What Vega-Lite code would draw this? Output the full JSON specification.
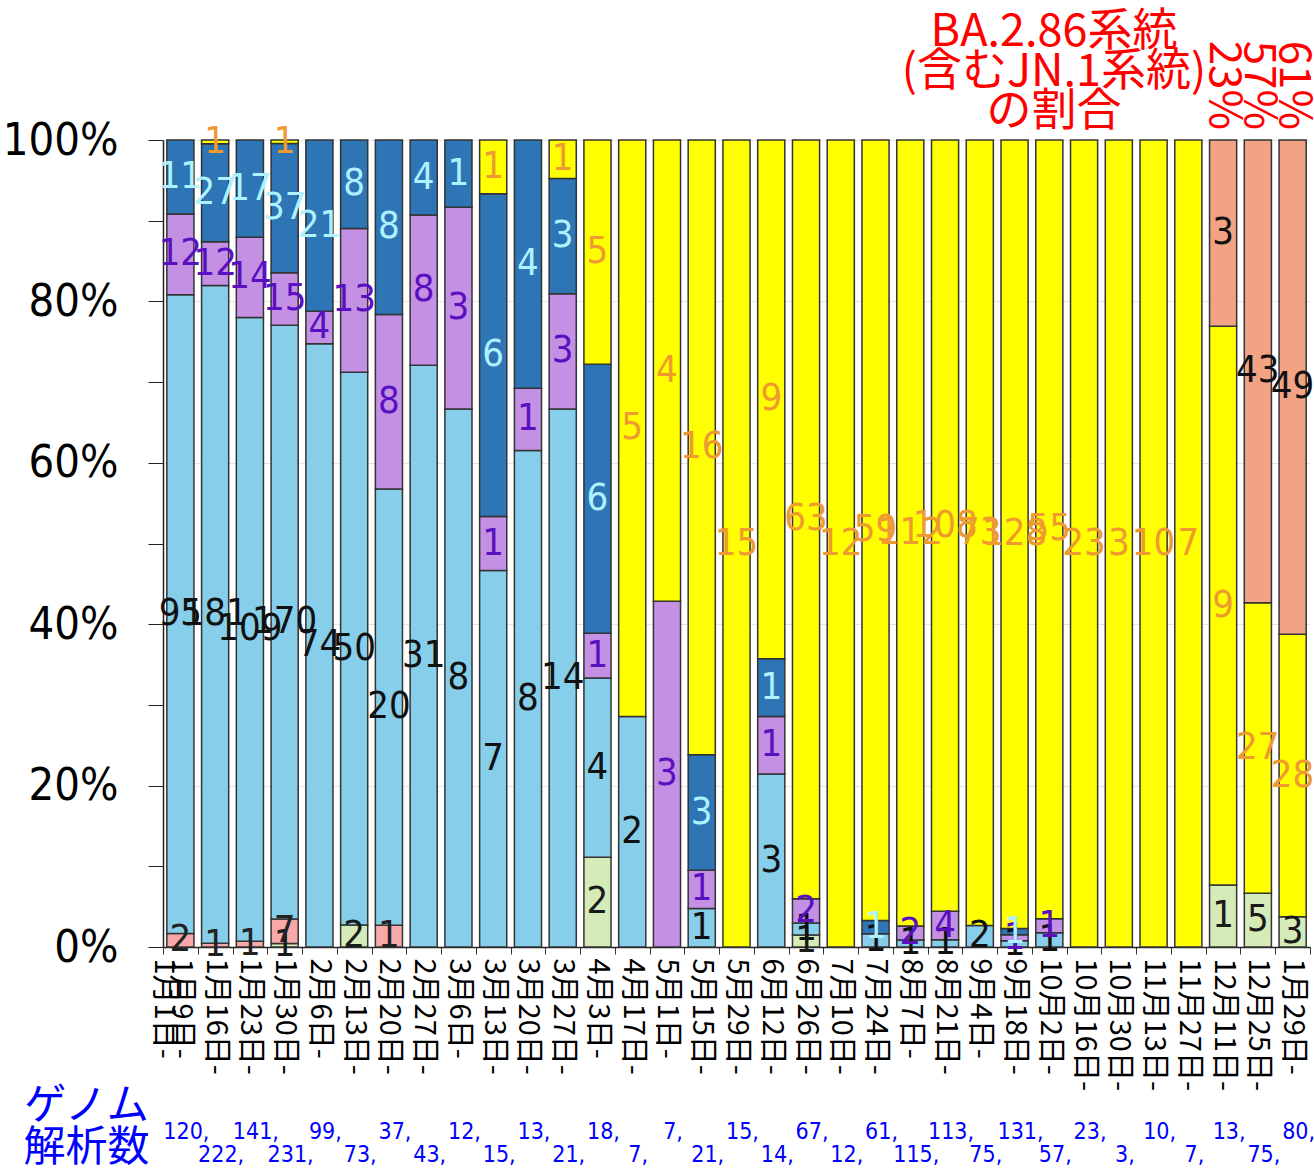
{
  "$schema": "https://vega.github.io/schema/vega-lite/v6.json",
  "width": 1147,
  "height": 807,
  "autosize": {"type": "none"},
  "padding": {"left": 163, "top": 140, "right": 4, "bottom": 229},
  "background": "white",
  "config": {"view": {"stroke": null}},
  "title": {
    "text": ["BA.2.86系統", "(含むJN.1系統)", "の割合"],
    "anchor": "end",
    "frame": "group",
    "align": "center",
    "dx": -256,
    "dy": 104,
    "offset": 10,
    "font": "Noto Sans CJK JP",
    "fontSize": 45,
    "fontWeight": "normal",
    "lineHeight": 40,
    "color": "#ff0000"
  },
  "data": {
    "values": [
      {"week": "2023-01-09", "lin": "v2", "n": 2}, {"week": "2023-01-09", "lin": "v3", "n": 95}, {"week": "2023-01-09", "lin": "v4", "n": 12}, {"week": "2023-01-09", "lin": "v5", "n": 11},
      {"week": "2023-01-16", "lin": "v2", "n": 1}, {"week": "2023-01-16", "lin": "v3", "n": 181}, {"week": "2023-01-16", "lin": "v4", "n": 12}, {"week": "2023-01-16", "lin": "v5", "n": 27}, {"week": "2023-01-16", "lin": "v6", "n": 1},
      {"week": "2023-01-23", "lin": "v2", "n": 1}, {"week": "2023-01-23", "lin": "v3", "n": 109}, {"week": "2023-01-23", "lin": "v4", "n": 14}, {"week": "2023-01-23", "lin": "v5", "n": 17},
      {"week": "2023-01-30", "lin": "v1", "n": 1}, {"week": "2023-01-30", "lin": "v2", "n": 7}, {"week": "2023-01-30", "lin": "v3", "n": 170}, {"week": "2023-01-30", "lin": "v4", "n": 15}, {"week": "2023-01-30", "lin": "v5", "n": 37}, {"week": "2023-01-30", "lin": "v6", "n": 1},
      {"week": "2023-02-06", "lin": "v3", "n": 74}, {"week": "2023-02-06", "lin": "v4", "n": 4}, {"week": "2023-02-06", "lin": "v5", "n": 21},
      {"week": "2023-02-13", "lin": "v1", "n": 2}, {"week": "2023-02-13", "lin": "v3", "n": 50}, {"week": "2023-02-13", "lin": "v4", "n": 13}, {"week": "2023-02-13", "lin": "v5", "n": 8},
      {"week": "2023-02-20", "lin": "v2", "n": 1}, {"week": "2023-02-20", "lin": "v3", "n": 20}, {"week": "2023-02-20", "lin": "v4", "n": 8}, {"week": "2023-02-20", "lin": "v5", "n": 8},
      {"week": "2023-02-27", "lin": "v3", "n": 31}, {"week": "2023-02-27", "lin": "v4", "n": 8}, {"week": "2023-02-27", "lin": "v5", "n": 4},
      {"week": "2023-03-06", "lin": "v3", "n": 8}, {"week": "2023-03-06", "lin": "v4", "n": 3}, {"week": "2023-03-06", "lin": "v5", "n": 1},
      {"week": "2023-03-13", "lin": "v3", "n": 7}, {"week": "2023-03-13", "lin": "v4", "n": 1}, {"week": "2023-03-13", "lin": "v5", "n": 6}, {"week": "2023-03-13", "lin": "v6", "n": 1},
      {"week": "2023-03-20", "lin": "v3", "n": 8}, {"week": "2023-03-20", "lin": "v4", "n": 1}, {"week": "2023-03-20", "lin": "v5", "n": 4},
      {"week": "2023-03-27", "lin": "v3", "n": 14}, {"week": "2023-03-27", "lin": "v4", "n": 3}, {"week": "2023-03-27", "lin": "v5", "n": 3}, {"week": "2023-03-27", "lin": "v6", "n": 1},
      {"week": "2023-04-03", "lin": "v1", "n": 2}, {"week": "2023-04-03", "lin": "v3", "n": 4}, {"week": "2023-04-03", "lin": "v4", "n": 1}, {"week": "2023-04-03", "lin": "v5", "n": 6}, {"week": "2023-04-03", "lin": "v6", "n": 5},
      {"week": "2023-04-17", "lin": "v3", "n": 2}, {"week": "2023-04-17", "lin": "v6", "n": 5},
      {"week": "2023-05-01", "lin": "v4", "n": 3}, {"week": "2023-05-01", "lin": "v6", "n": 4},
      {"week": "2023-05-15", "lin": "v3", "n": 1}, {"week": "2023-05-15", "lin": "v4", "n": 1}, {"week": "2023-05-15", "lin": "v5", "n": 3}, {"week": "2023-05-15", "lin": "v6", "n": 16},
      {"week": "2023-05-29", "lin": "v6", "n": 15},
      {"week": "2023-06-12", "lin": "v3", "n": 3}, {"week": "2023-06-12", "lin": "v4", "n": 1}, {"week": "2023-06-12", "lin": "v5", "n": 1}, {"week": "2023-06-12", "lin": "v6", "n": 9},
      {"week": "2023-06-26", "lin": "v1", "n": 1}, {"week": "2023-06-26", "lin": "v3", "n": 1}, {"week": "2023-06-26", "lin": "v4", "n": 2}, {"week": "2023-06-26", "lin": "v6", "n": 63},
      {"week": "2023-07-10", "lin": "v6", "n": 12},
      {"week": "2023-07-24", "lin": "v3", "n": 1}, {"week": "2023-07-24", "lin": "v5", "n": 1}, {"week": "2023-07-24", "lin": "v6", "n": 59},
      {"week": "2023-08-07", "lin": "v3", "n": 1}, {"week": "2023-08-07", "lin": "v4", "n": 2}, {"week": "2023-08-07", "lin": "v6", "n": 112},
      {"week": "2023-08-21", "lin": "v3", "n": 1}, {"week": "2023-08-21", "lin": "v4", "n": 4}, {"week": "2023-08-21", "lin": "v6", "n": 108},
      {"week": "2023-09-04", "lin": "v3", "n": 2}, {"week": "2023-09-04", "lin": "v6", "n": 73},
      {"week": "2023-09-18", "lin": "v3", "n": 1}, {"week": "2023-09-18", "lin": "v4", "n": 1}, {"week": "2023-09-18", "lin": "v5", "n": 1}, {"week": "2023-09-18", "lin": "v6", "n": 128},
      {"week": "2023-10-02", "lin": "v3", "n": 1}, {"week": "2023-10-02", "lin": "v4", "n": 1}, {"week": "2023-10-02", "lin": "v6", "n": 55},
      {"week": "2023-10-16", "lin": "v6", "n": 23},
      {"week": "2023-10-30", "lin": "v6", "n": 3},
      {"week": "2023-11-13", "lin": "v6", "n": 10},
      {"week": "2023-11-27", "lin": "v6", "n": 7},
      {"week": "2023-12-11", "lin": "v1", "n": 1}, {"week": "2023-12-11", "lin": "v6", "n": 9}, {"week": "2023-12-11", "lin": "v7", "n": 3},
      {"week": "2023-12-25", "lin": "v1", "n": 5}, {"week": "2023-12-25", "lin": "v6", "n": 27}, {"week": "2023-12-25", "lin": "v7", "n": 43},
      {"week": "2024-01-29", "lin": "v1", "n": 3}, {"week": "2024-01-29", "lin": "v6", "n": 28}, {"week": "2024-01-29", "lin": "v7", "n": 49}
    ]
  },
  "transform": [
    {"stack": "n", "groupby": ["week"], "sort": [{"field": "lin", "order": "ascending"}], "offset": "normalize", "as": ["y0", "y1"]},
    {"calculate": "(datum.y0 + datum.y1) / 2", "as": "ym"}
  ],
  "encoding": {
    "x": {
      "field": "week",
      "type": "ordinal",
      "scale": {"paddingInner": 0, "paddingOuter": 0},
      "axis": {
        "title": ["ゲノム", "解析数"],
        "titleFont": "Noto Sans CJK JP",
        "titleFontSize": 42,
        "titleFontWeight": "normal",
        "titleColor": "#0000ff",
        "titleLineHeight": 42,
        "titleAngle": 0,
        "titleAlign": "center",
        "titleBaseline": "top",
        "titleX": -77,
        "titleY": 138,
        "labelExpr": "(utcmonth(toDate(datum.value)) + 1) + '月' + utcdate(toDate(datum.value)) + '日-'",
        "labelAngle": 90,
        "labelAlign": "left",
        "labelBaseline": "middle",
        "labelFont": "Noto Sans CJK JP",
        "labelFontSize": 29,
        "labelColor": "#000000",
        "labelPadding": 4,
        "labelOverlap": false,
        "tickBand": "extent",
        "tickSize": 7,
        "tickColor": "#333333",
        "domainColor": "#222222",
        "domainWidth": 1.5
      }
    },
    "y": {
      "type": "quantitative",
      "scale": {"domain": [0, 1], "nice": false, "zero": true},
      "axis": {
        "title": null,
        "values": [0, 0.1, 0.2, 0.3, 0.4, 0.5, 0.6, 0.7, 0.8, 0.9, 1],
        "format": ".0%",
        "labelExpr": "round(datum.value * 10) % 2 == 0 ? datum.label : ''",
        "labelFont": "DejaVu Sans Condensed, Liberation Sans, sans-serif",
        "labelFontSize": 45,
        "labelColor": "#000000",
        "labelPadding": 30,
        "labelOverlap": false,
        "tickSize": 15,
        "tickColor": "#222222",
        "domainColor": "#222222",
        "domainWidth": 1.5,
        "grid": true,
        "gridColor": "#e4e4e4",
        "gridOpacity": {"condition": {"test": "round(datum.value * 10) % 2 == 0", "value": 1}, "value": 0}
      }
    }
  },
  "layer": [
    {
      "mark": {"type": "bar", "width": {"band": 0.78}, "stroke": "#333333", "strokeWidth": 1.5},
      "encoding": {
        "y": {"field": "y0"},
        "y2": {"field": "y1"},
        "color": {
          "field": "lin",
          "type": "nominal",
          "legend": null,
          "scale": {
            "domain": ["v1", "v2", "v3", "v4", "v5", "v6", "v7"],
            "range": ["#d5ecb8", "#f8a8a8", "#87ceeb", "#c490e4", "#2e75b6", "#ffff00", "#f2a384"]
          }
        }
      }
    },
    {
      "mark": {"type": "text", "font": "DejaVu Sans Condensed, Liberation Sans, sans-serif", "fontSize": 38, "baseline": "middle", "align": "center"},
      "encoding": {
        "y": {"field": "ym"},
        "text": {"field": "n", "type": "quantitative"},
        "color": {
          "field": "lin",
          "type": "nominal",
          "legend": null,
          "scale": {
            "domain": ["v1", "v2", "v3", "v4", "v5", "v6", "v7"],
            "range": ["#1a1a1a", "#222222", "#111111", "#5b10c0", "#aef2ff", "#ee9a30", "#111111"]
          }
        }
      }
    },
    {
      "transform": [
        {"joinaggregate": [{"op": "sum", "field": "n", "as": "tot"}], "groupby": ["week"]},
        {"filter": "datum.lin == 'v7'"},
        {"calculate": "format(datum.n / datum.tot, '.0%')", "as": "pct"}
      ],
      "mark": {"type": "text", "angle": 90, "align": "right", "baseline": "middle", "dx": -10, "font": "Noto Sans CJK JP", "fontSize": 44, "color": "#ff0000"},
      "encoding": {
        "y": {"datum": 1},
        "text": {"field": "pct", "type": "nominal"}
      }
    },
    {
      "transform": [
        {"aggregate": [{"op": "sum", "field": "n", "as": "tot"}], "groupby": ["week"]},
        {"window": [{"op": "row_number", "as": "rk"}], "sort": [{"field": "week", "order": "ascending"}]},
        {"filter": "datum.rk % 2 == 1"},
        {"calculate": "datum.tot + ','", "as": "lab"}
      ],
      "mark": {"type": "text", "align": "center", "baseline": "middle", "dy": 185, "dx": 6, "font": "DejaVu Sans Condensed, Liberation Sans, sans-serif", "fontSize": 23, "color": "#0000ff"},
      "encoding": {
        "y": {"datum": 0},
        "text": {"field": "lab", "type": "nominal"}
      }
    },
    {
      "transform": [
        {"aggregate": [{"op": "sum", "field": "n", "as": "tot"}], "groupby": ["week"]},
        {"window": [{"op": "row_number", "as": "rk"}], "sort": [{"field": "week", "order": "ascending"}]},
        {"filter": "datum.rk % 2 == 0"},
        {"calculate": "datum.tot + ','", "as": "lab"}
      ],
      "mark": {"type": "text", "align": "center", "baseline": "middle", "dy": 208, "dx": 6, "font": "DejaVu Sans Condensed, Liberation Sans, sans-serif", "fontSize": 23, "color": "#0000ff"},
      "encoding": {
        "y": {"datum": 0},
        "text": {"field": "lab", "type": "nominal"}
      }
    }
  ],
  "resolve": {"scale": {"color": "independent"}}
}
